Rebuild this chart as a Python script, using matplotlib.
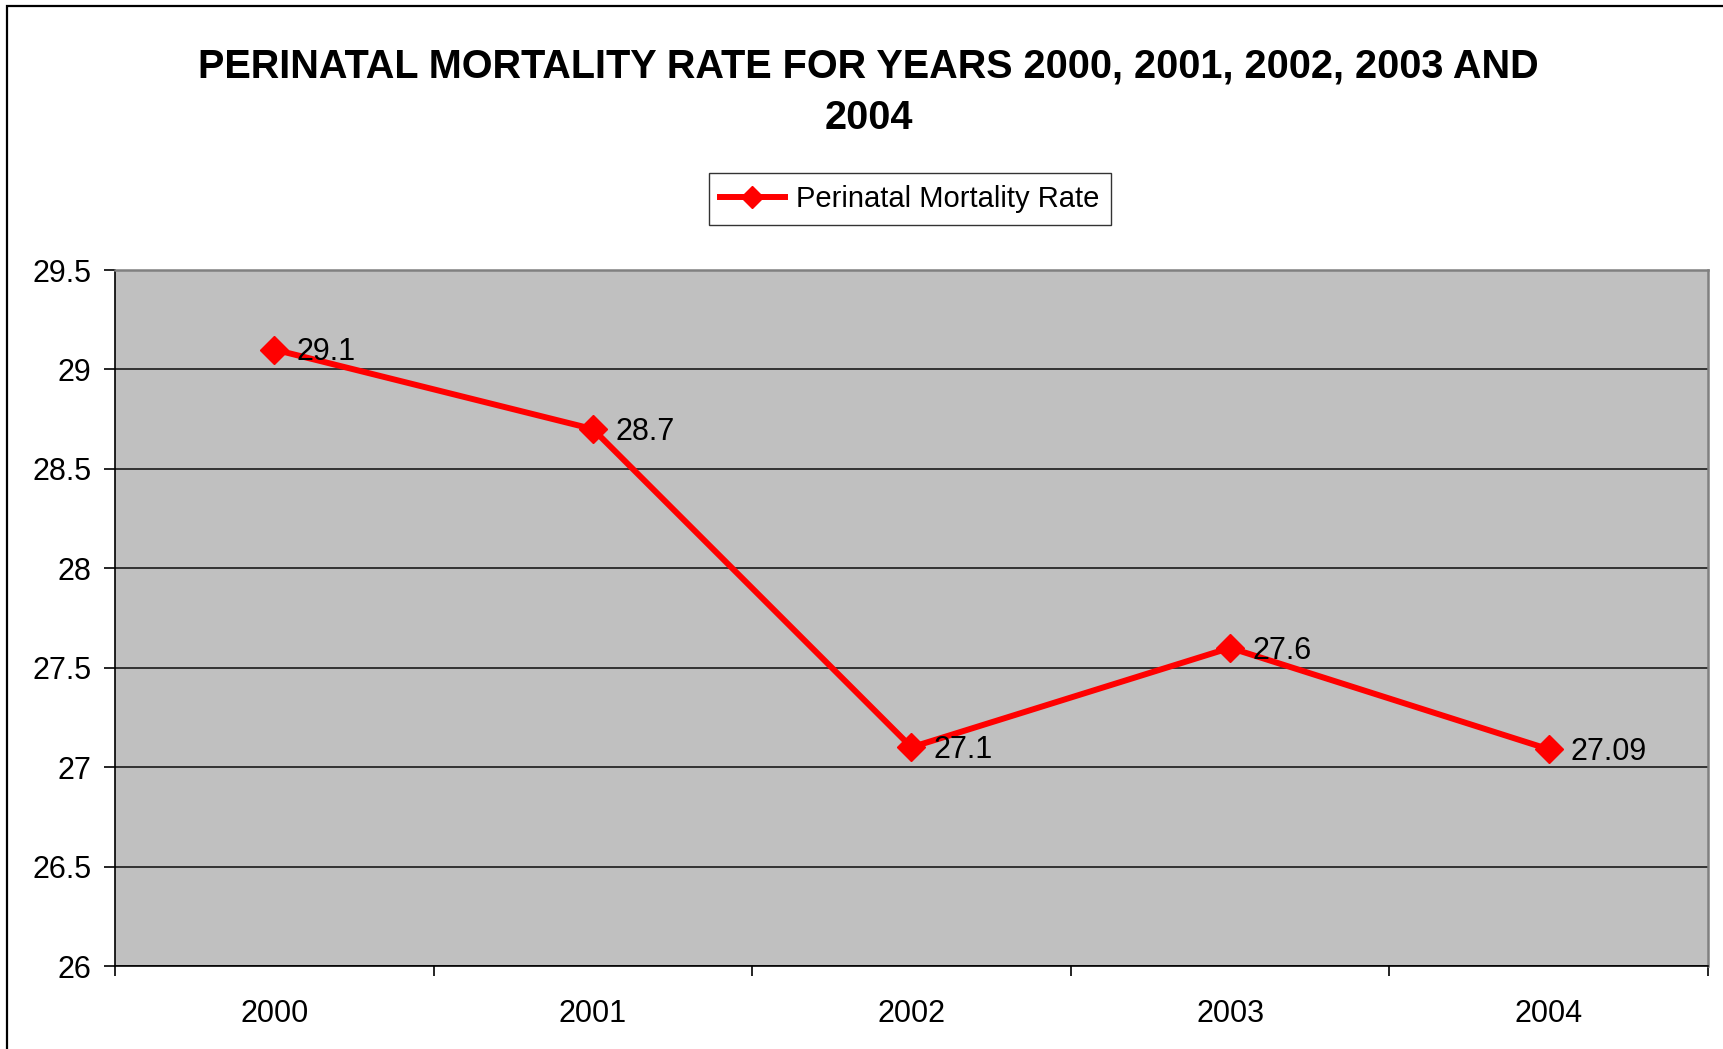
import matplotlib.pyplot as plt
from matplotlib.patches import Rectangle
from matplotlib.ticker import FixedLocator, NullFormatter

years = ["2000", "2001", "2002", "2003", "2004"]
rates = [29.1, 28.7, 27.1, 27.6, 27.09]
rate_labels = ["29.1", "28.7", "27.1", "27.6", "27.09"]
y_ticks = [26, 26.5, 27, 27.5, 28, 28.5, 29, 29.5]
y_tick_labels = ["26", "26.5", "27", "27.5", "28", "28.5", "29", "29.5"]

plt.rcParams['font.family'] = ['Liberation Sans', 'DejaVu Sans']

W, H = 1723, 1049
fig = plt.figure(figsize=(W / 100, H / 100), dpi=100)

# plot area in pixels: left 115, right 1708, top 270, bottom 966
ax = fig.add_axes([115 / W, 1 - 966 / H, (1708 - 115) / W, (966 - 270) / H])
ax.set_facecolor("#C0C0C0")

x = list(range(len(years)))
ax.plot(x, rates, color="#FF0000", lw=4.3, marker="D", ms=14,
        markeredgecolor="#FF0000", zorder=3, label="Perinatal Mortality Rate")

for xi, yi, lab in zip(x, rates, rate_labels):
    ax.annotate(lab, (xi, yi), xytext=(16, -2), textcoords="offset points",
                ha="left", va="center", fontsize=22, color="black", zorder=4)

ax.set_xlim(-0.5, len(years) - 0.5)
ax.set_ylim(26, 29.5)

ax.set_yticks(y_ticks)
ax.set_yticklabels(y_tick_labels, fontsize=22)
ax.yaxis.grid(True, color="#1a1a1a", lw=1.2)
ax.set_axisbelow(True)

# category boundaries get the ticks, labels sit in the middle
ax.xaxis.set_major_locator(FixedLocator([i - 0.5 for i in range(len(years) + 1)]))
ax.xaxis.set_major_formatter(NullFormatter())
ax.xaxis.set_minor_locator(FixedLocator(x))
ax.set_xticklabels(years, minor=True, fontsize=22)
ax.tick_params(axis="x", which="minor", length=0, pad=24)
ax.tick_params(axis="x", which="major", length=7, width=1.2, direction="out")
ax.tick_params(axis="y", length=8, width=1.2, direction="out", pad=9)

for side in ["top", "right"]:
    ax.spines[side].set_color("#808080")
    ax.spines[side].set_linewidth(1.8)
for side in ["left", "bottom"]:
    ax.spines[side].set_color("black")
    ax.spines[side].set_linewidth(1.2)

fig.text(0.504, 1 - 67 / H, "PERINATAL MORTALITY RATE FOR YEARS 2000, 2001, 2002, 2003 AND",
         ha="center", va="center", fontsize=28.5, fontweight="bold")
fig.text(0.504, 1 - 118 / H, "2004", ha="center", va="center", fontsize=28.5, fontweight="bold")

leg = fig.legend(loc="center", bbox_to_anchor=(910 / W, 1 - 199 / H), fontsize=21,
                 frameon=True, fancybox=False, edgecolor="black", borderpad=0.4,
                 handlelength=2.2, handletextpad=0.4, markerscale=0.8)
leg.get_frame().set_linewidth(1.0)

# outer chart border, cut off at the right and bottom
fig.patches.append(Rectangle((7 / W, -0.1), 1.2, 1 - 6 / H + 0.1, transform=fig.transFigure,
                             fill=False, edgecolor="black", lw=1.6))

fig.savefig("out.png", dpi=100)
